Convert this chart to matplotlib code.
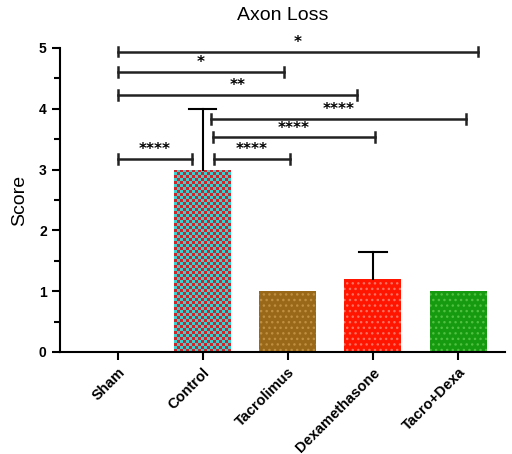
import matplotlib.pyplot as plt
import numpy as np

plt.rcParams['font.family'] = ['Liberation Sans', 'DejaVu Sans']

# Gruppen und Mittelwerte
groups = ['Sham', 'Control', 'Tacrolimus', 'Dexamethasone', 'Tacro+Dexa']
means = [0.0, 3.0, 1.0, 1.2, 1.0]
sd_upper = [0.0, 1.0, 0.0, 0.45, 0.0]

# Signifikanzbalken: (von, bis, Höhe, Sterne)
sig_from = [0, 0, 0, 1.1, 1.12, 1.13, 0]
sig_to = [4.23, 1.96, 2.81, 4.09, 3.02, 2.03, 0.87]
sig_y = [4.94, 4.6, 4.23, 3.83, 3.53, 3.18, 3.18]
sig_text = ['*', '*', '**', '****', '****', '****', '****']

fig = plt.figure(figsize=(5.12, 4.54), dpi=100)
ax = fig.add_axes([0.117, 0.2247, 0.869, 0.6696])

x = np.arange(len(groups))
w = 0.67

# Control: Schachbrettmuster rot/türkis
checker = (np.indices((61, 19)).sum(axis=0) % 2)
cmap = plt.matplotlib.colors.ListedColormap(['#c8282c', '#3ccfd0'])
bar_c = ax.bar(x[1], means[1], w, color='none', linewidth=0, zorder=2)[0]
im = ax.imshow(checker, cmap=cmap, extent=(x[1] - w / 2, x[1] + w / 2, 0, means[1]),
               aspect='auto', interpolation='nearest', zorder=2)
im.set_clip_path(bar_c)

# übrige Balken mit Punktmuster
fills = {2: ('#996818', '#c09040'), 3: ('#ff1500', '#ff7060'), 4: ('#159a10', '#50c040')}
plt.rcParams['hatch.linewidth'] = 1.0
for i, (fc, hc) in fills.items():
    ax.bar(x[i], means[i], w, color=fc, edgecolor=hc, linewidth=0, hatch='...', zorder=2)

# Fehlerbalken nur nach oben (ohne untere Kappe)
cap = 0.16
for i in range(len(groups)):
    if sd_upper[i] > 0:
        top = means[i] + sd_upper[i]
        ax.plot([x[i], x[i]], [means[i], top], color='black', lw=1.5, zorder=3)
        ax.plot([x[i] - cap, x[i] + cap], [top, top], color='black', lw=1.5, zorder=3)

# Signifikanzbalken
d = 0.08
for x1, x2, y, t in zip(sig_from, sig_to, sig_y, sig_text):
    ax.plot([x1, x2], [y, y], color='#222222', lw=1.8, clip_on=False, zorder=4)
    ax.plot([x1, x1], [y - d, y + d], color='#222222', lw=1.8, clip_on=False, zorder=4)
    ax.plot([x2, x2], [y - d, y + d], color='#222222', lw=1.8, clip_on=False, zorder=4)
    ax.text((x1 + x2) / 2, y + 0.03, t, ha='center', va='bottom', fontsize=11,
            fontweight='bold', family='DejaVu Sans', clip_on=False)

ax.set_xlim(-0.68, 4.55)
ax.set_ylim(0, 5)
ax.set_yticks([0, 1, 2, 3, 4, 5])
ax.set_yticks(np.arange(0.5, 5, 1), minor=True)
ax.set_xticks(x)
ax.set_xticklabels(groups, rotation=45, ha='right', rotation_mode='anchor',
                   fontsize=10.5, fontweight='bold')
for lab in ax.get_yticklabels():
    lab.set_fontweight('bold')
    lab.set_fontsize(10)

for s in ['top', 'right']:
    ax.spines[s].set_visible(False)
for s in ['left', 'bottom']:
    ax.spines[s].set_linewidth(1.5)
ax.tick_params(axis='both', which='major', width=1.5, length=6)
ax.tick_params(axis='y', which='minor', width=1.5, length=4)

ax.set_ylabel('Score', fontsize=14, labelpad=8)
ax.set_title('Axon Loss', fontsize=14, pad=20)

fig.savefig('out.png', dpi=100)
